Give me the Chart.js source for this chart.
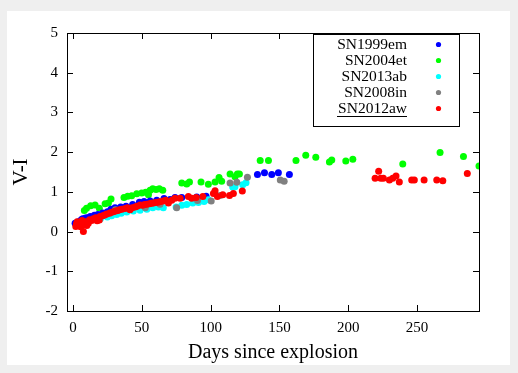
<!DOCTYPE html>
<html>
<head>
<meta charset="utf-8">
<script src="https://cdn.jsdelivr.net/npm/chart.js@4.4.0/dist/chart.umd.min.js"></script>
<style>
  html, body { margin: 0; padding: 0; background: #efefef; }
  #wrap { position: absolute; left: 0; top: 0; width: 518px; height: 373px; }
</style>
</head>
<body>
<div id="wrap"><canvas id="chart" width="518" height="373"></canvas></div>
<script>
// ===== Data (days since explosion, V-I colour) =====
const xTicks = [0, 50, 100, 150, 200, 250];
const yTicks = [-2, -1, 0, 1, 2, 3, 4, 5];

const sn1999emDays = [1.5, 4, 6, 7, 9, 10.4, 12.5, 15.5, 18, 21.6, 25, 27.6, 30.5, 34.6, 38.5, 43.3, 48.2, 51.6, 56, 60.8, 66.1, 70.5, 74.1, 79, 89.9, 96.7, 134, 139.1, 144.4, 149.2, 157.2];
const sn1999emVI   = [0.21, 0.25, 0.30, 0.32, 0.34, 0.35, 0.38, 0.41, 0.43, 0.47, 0.50, 0.56, 0.60, 0.62, 0.64, 0.68, 0.74, 0.76, 0.77, 0.79, 0.83, 0.81, 0.86, 0.86, 0.87, 0.89, 1.44, 1.48, 1.44, 1.48, 1.44];

const sn2004etDays = [8.2, 9.8, 12.8, 16, 19.1, 23.3, 25.7, 27.6, 37, 39.7, 42.6, 46.3, 49.9, 52.8, 54.8, 56, 57.9, 60.3, 62.7, 65.2, 79, 82.6, 84.6, 93, 98.3, 103.2, 106.1, 108, 114.1, 117.7, 119.4, 120.9, 136, 142, 162, 169.1, 176.4, 186.3, 188, 198.2, 203.3, 239.6, 266.7, 283.7, 295];
const sn2004etVI   = [0.53, 0.59, 0.65, 0.67, 0.59, 0.70, 0.72, 0.82, 0.86, 0.89, 0.90, 0.95, 0.97, 0.99, 0.93, 1.04, 1.08, 1.06, 1.08, 1.04, 1.22, 1.20, 1.25, 1.25, 1.19, 1.25, 1.36, 1.27, 1.45, 1.38, 1.45, 1.45, 1.79, 1.79, 1.79, 1.92, 1.87, 1.75, 1.80, 1.78, 1.82, 1.70, 1.99, 1.89, 1.65];

const sn2013abDays = [20, 24.9, 28, 31.7, 35, 39, 43.8, 48.7, 53.6, 57.9, 62, 65.6, 74.9, 79, 82.6, 87, 91.1, 95.2, 98.3, 116, 117.7, 123.3, 125.7];
const sn2013abVI   = [0.33, 0.37, 0.40, 0.43, 0.46, 0.49, 0.52, 0.54, 0.56, 0.60, 0.62, 0.60, 0.62, 0.66, 0.68, 0.72, 0.73, 0.76, 0.80, 1.12, 1.13, 1.18, 1.23];

const sn2008inDays = [30.8, 52.5, 63.2, 75.3, 90.4, 100.4, 106.8, 114.1, 119, 126.7, 150.6, 153.4];
const sn2008inVI   = [0.55, 0.60, 0.69, 0.60, 0.78, 0.77, 0.91, 1.22, 1.24, 1.37, 1.30, 1.27];

const sn2012awDays = [2, 2.5, 3, 4, 5, 5.5, 6.5, 7.5, 8, 9, 10, 11.1, 12, 13.5, 14.8, 16.5, 17.5, 19.1, 19.6, 21.5, 23, 24.5, 26.5, 27.5, 29.3, 31, 32.5, 33.7, 35.5, 37.8, 39.5, 41.4, 43, 45.1, 46.5, 48.7, 50.5, 52, 53.6, 55.5, 57, 58.4, 60, 61.5, 63.2, 65.5, 67.4, 69.3, 71.7, 74.1, 77.8, 83.8, 86.2, 89.4, 94.3, 102, 103.2, 104.9, 108.8, 113.7, 116.5, 123, 219.5, 222.1, 223.6, 225.5, 229.9, 232.3, 234.7, 237.1, 246.1, 248, 255.1, 264.3, 268.7, 286.5];
const sn2012awVI   = [0.13, 0.20, 0.25, 0.15, 0.22, 0.12, 0.28, 0.00, 0.18, 0.25, 0.15, 0.21, 0.30, 0.28, 0.32, 0.35, 0.27, 0.29, 0.38, 0.40, 0.42, 0.44, 0.46, 0.48, 0.50, 0.52, 0.53, 0.55, 0.56, 0.58, 0.60, 0.55, 0.60, 0.62, 0.64, 0.67, 0.66, 0.68, 0.69, 0.70, 0.71, 0.72, 0.73, 0.74, 0.75, 0.77, 0.79, 0.72, 0.79, 0.84, 0.84, 0.88, 0.84, 0.86, 0.88, 0.96, 1.03, 0.88, 0.93, 0.91, 0.96, 1.02, 1.34, 1.52, 1.34, 1.34, 1.30, 1.34, 1.40, 1.25, 1.30, 1.30, 1.30, 1.30, 1.28, 1.46];

const toPoints = (xs, ys) => xs.map((x, i) => ({ x: x, y: ys[i] }));

const SERIF = "'Liberation Serif', 'DejaVu Serif', serif";

const series = [
    { label: 'SN1999em', color: '#0000ff', data: toPoints(sn1999emDays, sn1999emVI), order: 3 },
    { label: 'SN2004et', color: '#00ff00', data: toPoints(sn2004etDays, sn2004etVI), order: 4 },
    { label: 'SN2013ab', color: '#00ffff', data: toPoints(sn2013abDays, sn2013abVI), order: 2 },
    { label: 'SN2008in', color: '#808080', data: toPoints(sn2008inDays, sn2008inVI), order: 1 },
    { label: 'SN2012aw', color: '#ff0000', data: toPoints(sn2012awDays, sn2012awVI), order: 0 },
];

// ===== Background panel, frame, inward ticks and the boxed key =====
const panelPlugin = {
    id: 'panel',
    beforeDraw(chart) {
        const ctx = chart.ctx;
        ctx.save();
        ctx.fillStyle = '#efefef';
        ctx.fillRect(0, 0, chart.width, chart.height);
        ctx.fillStyle = '#ffffff';
        ctx.fillRect(7, 11, 503, 354);
        ctx.restore();
    },
    afterDraw(chart) {
        const ctx = chart.ctx;
        const a = chart.chartArea;
        const xs = chart.scales.x, ys = chart.scales.y;
        const tick = 6;
        ctx.save();
        ctx.strokeStyle = '#000';
        ctx.lineWidth = 1;
        ctx.strokeRect(Math.round(a.left) + 0.5, Math.round(a.top) + 0.5,
                       Math.round(a.right - a.left), Math.round(a.bottom - a.top));
        ctx.beginPath();
        xTicks.forEach(v => {
            const px = Math.round(xs.getPixelForValue(v)) + 0.5;
            ctx.moveTo(px, a.bottom); ctx.lineTo(px, a.bottom - tick);
            ctx.moveTo(px, a.top); ctx.lineTo(px, a.top + tick);
        });
        yTicks.forEach(v => {
            const py = Math.round(ys.getPixelForValue(v)) + 0.5;
            ctx.moveTo(a.left, py); ctx.lineTo(a.left + tick, py);
            ctx.moveTo(a.right, py); ctx.lineTo(a.right - tick, py);
        });
        ctx.stroke();

        // key box
        ctx.fillStyle = '#fff';
        ctx.fillRect(313.5, 34.5, 146, 92);
        ctx.strokeRect(313.5, 34.5, 146, 92);
        ctx.font = '15.5px ' + SERIF;
        ctx.textAlign = 'right';
        ctx.textBaseline = 'middle';
        series.forEach((s, i) => {
            const y = 44.5 + i * 16;
            ctx.fillStyle = '#000';
            ctx.fillText(s.label, 407, y);
            ctx.beginPath();
            ctx.fillStyle = s.color;
            ctx.arc(438.5, y, 2.6, 0, Math.PI * 2);
            ctx.fill();
        });
        ctx.beginPath();
        ctx.moveTo(337, 116.5); ctx.lineTo(407, 116.5);
        ctx.stroke();
        ctx.restore();
    }
};

new Chart(document.getElementById('chart'), {
    type: 'scatter',
    data: {
        datasets: series.map(s => ({
            label: s.label,
            data: s.data,
            order: s.order,
            backgroundColor: s.color,
            borderColor: s.color,
            borderWidth: 0,
            pointRadius: 3.5,
            pointHoverRadius: 3.5,
        }))
    },
    options: {
        responsive: false,
        animation: false,
        devicePixelRatio: 1,
        layout: { padding: { left: 0, top: 33, right: 39, bottom: 0 } },
        plugins: {
            legend: { display: false },
            tooltip: { enabled: false }
        },
        scales: {
            x: {
                type: 'linear',
                min: -4.4,
                max: 295,
                afterBuildTicks: (s) => { s.ticks = xTicks.map(v => ({ value: v })); },
                afterFit: (s) => { s.height = 62; },
                grid: { display: false, drawTicks: false },
                border: { display: false },
                ticks: { color: '#000', padding: 8, maxRotation: 0, font: { family: SERIF, size: 15 } },
                title: { display: true, text: 'Days since explosion', color: '#000', padding: { top: 0, bottom: 8 }, font: { family: SERIF, size: 20 } }
            },
            y: {
                min: -2,
                max: 5,
                afterBuildTicks: (s) => { s.ticks = yTicks.map(v => ({ value: v })); },
                afterFit: (s) => { s.width = 67; },
                grid: { display: false, drawTicks: false },
                border: { display: false },
                ticks: { color: '#000', padding: 9, font: { family: SERIF, size: 15 } },
                title: { display: true, text: 'V-I', color: '#000', padding: { top: 9, bottom: 0 }, font: { family: SERIF, size: 21 } }
            }
        }
    },
    plugins: [panelPlugin]
});
</script>
</body>
</html>
